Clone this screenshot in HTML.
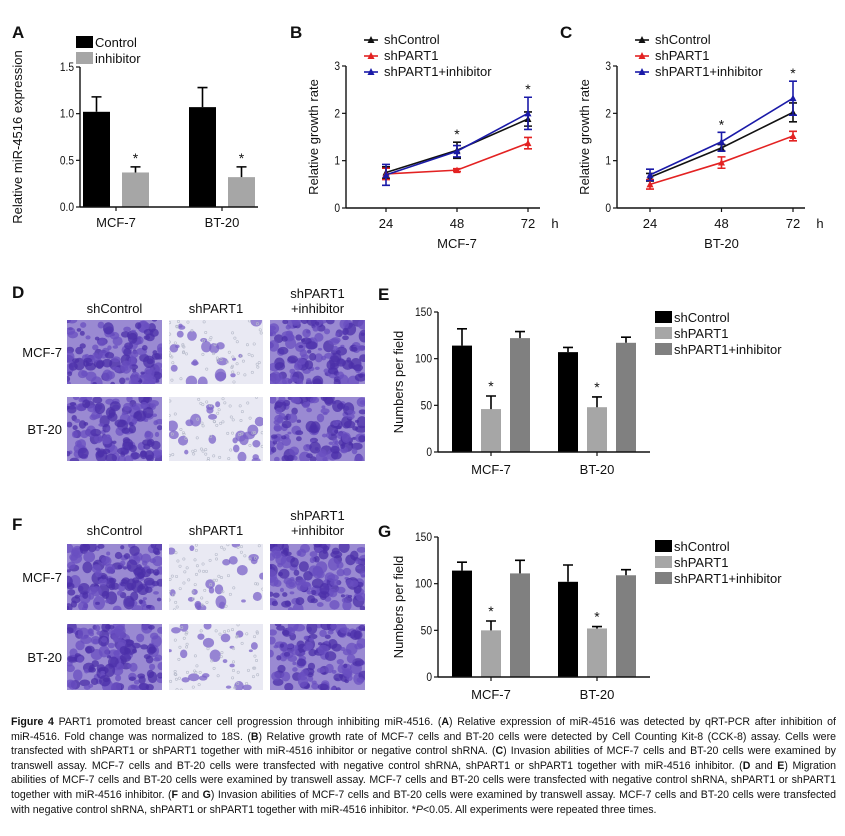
<!DOCTYPE html>
<html><head><meta charset="utf-8"><style>
body{margin:0;background:#fff;width:845px;height:836px;overflow:hidden;font-family:"Liberation Sans",Arial,sans-serif}
#fig{position:absolute;left:0;top:0}
#cap{position:absolute;left:11px;top:715px;width:825px;font-size:10.6px;line-height:14.6px;color:#111;font-family:"Liberation Sans Narrow","Liberation Sans",sans-serif}
#cap div{text-align:justify;text-align-last:justify;white-space:nowrap}
#cap div.last{text-align-last:left}
</style></head><body>
<svg id="fig" width="845" height="710" xmlns="http://www.w3.org/2000/svg" font-family="Liberation Sans, Arial, sans-serif"><defs id="defs"></defs></svg>
<div id="cap">
<div><b>Figure 4</b> PART1 promoted breast cancer cell progression through inhibiting miR-4516. (<b>A</b>) Relative expression of miR-4516 was detected by qRT-PCR after inhibition of</div>
<div>miR-4516. Fold change was normalized to 18S. (<b>B</b>) Relative growth rate of MCF-7 cells and BT-20 cells were detected by Cell Counting Kit-8 (CCK-8) assay. Cells were</div>
<div>transfected with shPART1 or shPART1 together with miR-4516 inhibitor or negative control shRNA. (<b>C</b>) Invasion abilities of MCF-7 cells and BT-20 cells were examined by</div>
<div>transwell assay. MCF-7 cells and BT-20 cells were transfected with negative control shRNA, shPART1 or shPART1 together with miR-4516 inhibitor. (<b>D</b> and <b>E</b>) Migration</div>
<div>abilities of MCF-7 cells and BT-20 cells were examined by transwell assay. MCF-7 cells and BT-20 cells were transfected with negative control shRNA, shPART1 or shPART1</div>
<div>together with miR-4516 inhibitor. (<b>F</b> and <b>G</b>) Invasion abilities of MCF-7 cells and BT-20 cells were examined by transwell assay. MCF-7 cells and BT-20 cells were transfected</div>
<div class="last">with negative control shRNA, shPART1 or shPART1 together with miR-4516 inhibitor. *<i>P</i>&lt;0.05. All experiments were repeated three times.</div>
</div>
<script>
// Panel A data
const aCategories=["MCF-7","BT-20"];
const aControl=[1.02,1.07];
const aControlErr=[0.16,0.21];
const aInhibitor=[0.37,0.32];
const aInhibitorErr=[0.06,0.11];
const aTicks=["0.0","0.5","1.0","1.5"];
// Panel B data
const timeLabels=["24","48","72"];
const times=[24,48,72];
const bShControl=[0.75,1.22,1.88];
const bShControlErr=[0.12,0.17,0.15];
const bShPART1=[0.72,0.80,1.37];
const bShPART1Err=[0.12,0.03,0.12];
const bShInh=[0.70,1.20,2.00];
const bShInhErr=[0.22,0.12,0.34];
// Panel C data
const cShControl=[0.65,1.27,2.02];
const cShControlErr=[0.08,0.07,0.20];
const cShPART1=[0.50,0.96,1.52];
const cShPART1Err=[0.10,0.12,0.10];
const cShInh=[0.70,1.40,2.32];
const cShInhErr=[0.12,0.20,0.36];
const lineTicks=["0","1","2","3"];
// Panel E data
const eShControl=[114,107];
const eShControlErr=[18,5];
const eShPART1=[46,48];
const eShPART1Err=[14,11];
const eShInh=[122,117];
const eShInhErr=[7,6];
// Panel G data
const gShControl=[114,102];
const gShControlErr=[9,18];
const gShPART1=[50,52];
const gShPART1Err=[10,2];
const gShInh=[111,109];
const gShInhErr=[14,6];
const countTicks=["0","50","100","150"];

const svg=document.getElementById('fig');
const defs=document.getElementById('defs');
const NS="http://www.w3.org/2000/svg";
function mk(tag,attrs,parent,txt){const e=document.createElementNS(NS,tag);for(const k in attrs)e.setAttribute(k,attrs[k]);if(txt!==undefined)e.textContent=txt;(parent||svg).appendChild(e);return e;}
function grp(name){const g=mk('g',{});return g;}
function label(g,x,y,t,name,size,anchor,extra){const e=mk('text',Object.assign({x:x,y:y,'font-size':size||12,'text-anchor':anchor||'middle',fill:'#111'},extra||{}),g,t);return e;}
function errBar(g,x,y1,y2,color,name){const e=mk('path',{d:`M${x},${y1}V${y2}M${x-5},${y2}H${x+5}`,stroke:color,'stroke-width':1.6,fill:'none'},g);}

function yAxis(g,x0,y0,ytop,ticks,maxv,title,tx){
  mk('line',{x1:x0,y1:y0,x2:x0,y2:ytop,stroke:'#111','stroke-width':1.4},g);
  ticks.forEach((t,i)=>{const v=parseFloat(t);const y=y0-(y0-ytop)*v/maxv;
    mk('line',{x1:x0-4,y1:y,x2:x0,y2:y,stroke:'#111','stroke-width':1.2},g);
    label(g,x0-6,y+4,t,'y-tick-label',12,'end',{transform:`translate(${x0-6},${y+4}) scale(0.85,1) translate(${-(x0-6)},${-(y+4)})`});});
  const my=(y0+ytop)/2;
  label(g,tx,my,title,'y-axis-title',13,'middle',{transform:`rotate(-90 ${tx} ${my})`});
}

[['A',12,38],['B',290,38],['C',560,38],['D',12,298],['E',378,300],['F',12,530],['G',378,537]].forEach(p=>{label(svg,p[1],p[2],p[0],'panel-label-'+p[0].toLowerCase(),17,'start',{'font-weight':'bold'});});

(function(){
  const g=grp('panel-a-chart');
  const x0=80,y0=207,yt=67,mx=1.5;const Y=v=>y0-(y0-yt)*v/mx;
  const centers=[116,222];const bw=27;
  aCategories.forEach((c,i)=>{
    const cx=centers[i];
    const b1=mk('rect',{x:cx-33,y:Y(aControl[i]),width:bw,height:y0-Y(aControl[i]),fill:'#000'},g);
    errBar(g,cx-19.5,Y(aControl[i]),Y(aControl[i]+aControlErr[i]),'#000','error-bar');
    const b2=mk('rect',{x:cx+6,y:Y(aInhibitor[i]),width:bw,height:y0-Y(aInhibitor[i]),fill:'#a6a6a6'},g);
    errBar(g,cx+19.5,Y(aInhibitor[i]),Y(aInhibitor[i]+aInhibitorErr[i]),'#000','error-bar');
    label(g,cx+19.5,Y(aInhibitor[i]+aInhibitorErr[i])-4,'*','significance-star',14);
    mk('line',{x1:cx,y1:y0,x2:cx,y2:y0+4,stroke:'#111','stroke-width':1.2},g);
    label(g,cx,y0+20,c,'x-tick-label',13);
  });
  mk('line',{x1:x0,y1:y0,x2:258,y2:y0,stroke:'#111','stroke-width':1.4},g);
  yAxis(g,x0,y0,yt,aTicks,mx,'Relative  miR-4516 expression',22);
  const lg=grp('legend-a');
  [['#000','Control',36],['#a6a6a6','inhibitor',52]].forEach(l=>{mk('rect',{x:76,y:l[2],width:17,height:12,fill:l[0]},lg);label(lg,95,l[2]+11,l[1],'legend-entry',13,'start');});
})();

function linePanel(name,x0,x24,x72,series,errs,stars,xlab){
  const g=grp(name);
  const y0=208,yt=66,mx=3;const Y=v=>y0-(y0-yt)*v/mx;const X=t=>x24+(t-24)*(x72-x24)/48;
  const colors=['#111','#e32222','#1a1aa8'];const names=['shControl','shPART1','shPART1+inhibitor'];
  series.forEach((s,si)=>{
    const pts=s.map((v,i)=>X(times[i])+','+Y(v)).join(' ');
    const pl=mk('polyline',{points:pts,fill:'none',stroke:colors[si],'stroke-width':1.6},g);
    s.forEach((v,i)=>{const x=X(times[i]);
      const e=mk('path',{d:`M${x},${Y(v-errs[si][i])}V${Y(v+errs[si][i])}M${x-4},${Y(v-errs[si][i])}H${x+4}M${x-4},${Y(v+errs[si][i])}H${x+4}`,stroke:colors[si],'stroke-width':1.6,fill:'none'},g);
      const m=mk('path',{d:`M${x-3.5},${Y(v)+3}L${x+3.5},${Y(v)+3}L${x},${Y(v)-3.5}Z`,fill:colors[si]},g);});
  });
  stars.forEach(i=>{const top=Math.max(...series.map((s,si)=>s[i]+errs[si][i]));label(g,X(times[i]),Y(top)-3,'*','significance-star',14);});
  mk('line',{x1:x0,y1:y0,x2:x72+12,y2:y0,stroke:'#111','stroke-width':1.4},g);
  timeLabels.forEach((t,i)=>{const x=X(times[i]);mk('line',{x1:x,y1:y0,x2:x,y2:y0+4,stroke:'#111','stroke-width':1.2},g);label(g,x,y0+20,t,'x-tick-label',13);});
  label(g,x72+27,y0+20,'h','x-unit',13);
  label(g,X(48),y0+40,xlab,'x-axis-title',13);
  yAxis(g,x0,y0,yt,lineTicks,mx,'Relative growth rate',x0-28);
  const lg=grp('legend-'+name);
  names.forEach((n,i)=>{const y=44+i*16;mk('line',{x1:x0+18,y1:y-4,x2:x0+32,y2:y-4,stroke:colors[i],'stroke-width':1.6},lg);mk('path',{d:`M${x0+21.5},${y-1}L${x0+28.5},${y-1}L${x0+25},${y-8}Z`,fill:colors[i]},lg);label(lg,x0+38,y,n,'legend-entry',13,'start');});
}
linePanel('panel-b-chart',346,386,528,[bShControl,bShPART1,bShInh],[bShControlErr,bShPART1Err,bShInhErr],[1,2],'MCF-7');
linePanel('panel-c-chart',617,650,793,[cShControl,cShPART1,cShInh],[cShControlErr,cShPART1Err,cShInhErr],[1,2],'BT-20');

function barPanel(name,y0,yt,vals,errs,legY){
  const g=grp(name);const x0=438,mx=150;const Y=v=>y0-(y0-yt)*v/mx;
  const colors=['#000','#a6a6a6','#808080'];const names=['shControl','shPART1','shPART1+inhibitor'];
  const centers=[491,597];const offs=[-39,-10,19];const cats=["MCF-7","BT-20"];
  cats.forEach((c,ci)=>{
    vals.forEach((s,si)=>{const x=centers[ci]+offs[si];
      const b=mk('rect',{x:x,y:Y(s[ci]),width:20,height:y0-Y(s[ci]),fill:colors[si]},g);
      errBar(g,x+10,Y(s[ci]),Y(s[ci]+errs[si][ci]),'#000','error-bar');
      if(si===1)label(g,x+10,Y(s[ci]+errs[si][ci])-5,'*','significance-star',14);});
    mk('line',{x1:centers[ci],y1:y0,x2:centers[ci],y2:y0+4,stroke:'#111','stroke-width':1.2},g);
    label(g,centers[ci],y0+22,c,'x-tick-label',13);
  });
  mk('line',{x1:x0,y1:y0,x2:650,y2:y0,stroke:'#111','stroke-width':1.4},g);
  yAxis(g,x0,y0,yt,countTicks,mx,'Numbers per field',x0-35);
  const lg=grp('legend-'+name);
  names.forEach((n,i)=>{const y=legY+i*16;mk('rect',{x:655,y:y-11,width:17,height:12,fill:colors[i]},lg);label(lg,674,y,n,'legend-entry',13,'start');});
}
barPanel('panel-e-chart',452,312,[eShControl,eShPART1,eShInh],[eShControlErr,eShPART1Err,eShInhErr],322);
barPanel('panel-g-chart',677,537,[gShControl,gShPART1,gShInh],[gShControlErr,gShPART1Err,gShInhErr],551);

let seed=7;function rnd(){seed=(seed*16807)%2147483647;return seed/2147483647;}
let clipN=0;
function micro(name,x,y,w,h,dense,bg){
  const id='clip'+(clipN++);
  const cp=mk('clipPath',{id:id},defs);mk('rect',{x:x,y:y,width:w,height:h},cp);
  const g=grp(name);g.setAttribute('clip-path','url(#'+id+')');
  mk('rect',{x:x,y:y,width:w,height:h,fill:bg},g);
  const n=dense?140:22;
  for(let i=0;i<n;i++){const cx=x+rnd()*w,cy=y+rnd()*h;const r=2+rnd()*4;
    const c=dense?(rnd()<0.5?'#4b2fa8':'#6a4fc0'):'#7a62c8';
    mk('ellipse',{cx:cx,cy:cy,rx:r,ry:r*(0.6+rnd()*0.6),fill:c,opacity:0.75},g);}
  if(!dense)for(let i=0;i<60;i++){mk('circle',{cx:x+rnd()*w,cy:y+rnd()*h,r:1.2,fill:'none',stroke:'#b8bccb','stroke-width':0.6},g);}
}
function microPanel(p,hy,r1,r2,rowsH){
  const cols=[[67,95],[169,94],[270,95]];
  const heads=[['shControl'],['shPART1'],['shPART1','+inhibitor']];
  heads.forEach((h,i)=>{const cx=cols[i][0]+cols[i][1]/2;if(h.length===1)label(svg,cx,hy,h[0],'column-header',13);else{label(svg,cx,hy-15,h[0],'column-header',13);label(svg,cx,hy,h[1],'column-header',13);}});
  [['MCF-7',r1],['BT-20',r2]].forEach(r=>{label(svg,62,r[1]+rowsH/2+5,r[0],'row-label',13,'end');
    cols.forEach((c,i)=>micro(p+'-'+r[0]+'-'+i,c[0],r[1],c[1],rowsH,i!==1,i===1?'#e9e9f3':'#9a8ad2'));});
}
microPanel('micrograph-d',313,320,397,64);
microPanel('micrograph-f',535,544,624,66);
</script>
</body></html>
